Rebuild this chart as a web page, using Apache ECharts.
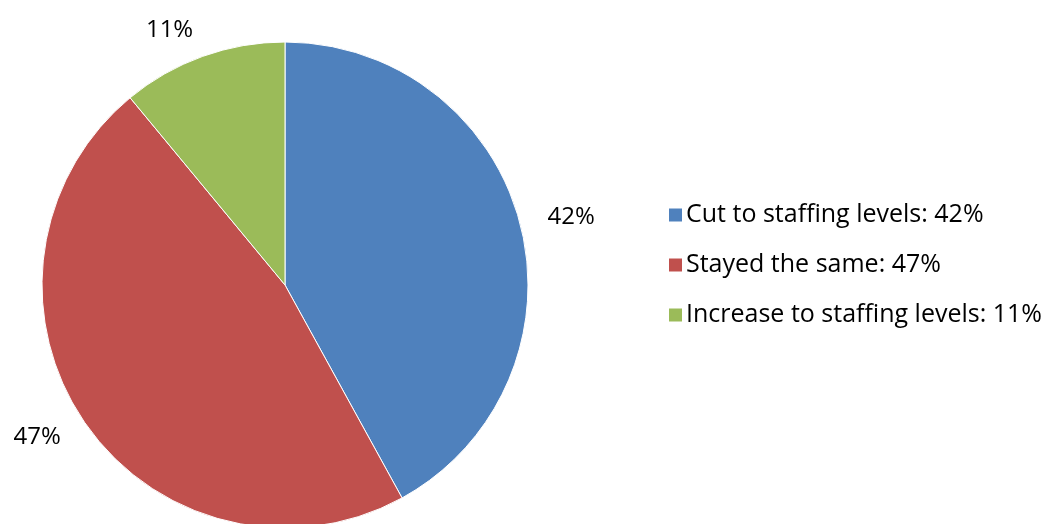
<!DOCTYPE html>
<html>
<head>
<meta charset="utf-8">
<script src="https://cdn.jsdelivr.net/npm/echarts@6/dist/echarts.min.js"></script>
<style>
  html, body { margin: 0; padding: 0; background: #ffffff; }
  #chart { width: 1061px; height: 524px; }
</style>
</head>
<body>
<div id="chart"></div>
<script>
// Change to staffing levels, share of respondents (%)
const categories = ['Cut to staffing levels', 'Stayed the same', 'Increase to staffing levels'];
const shares = [42, 47, 11];
const colors = ['#4F81BD', '#C0504D', '#9BBB59'];

const FONT = '"Open Sans", Lato, sans-serif';

const chart = echarts.init(document.getElementById('chart'));
chart.setOption({
  animation: false,
  backgroundColor: '#ffffff',
  color: colors,
  legend: {
    orient: 'vertical',
    left: 662,
    top: 196,
    itemWidth: 15,
    itemHeight: 15,
    itemGap: 22,
    icon: 'rect',
    data: categories,
    formatter: function (name) {
      return name + ': ' + shares[categories.indexOf(name)] + '%';
    },
    textStyle: { fontFamily: FONT, fontSize: 25, color: '#000000', lineHeight: 28, padding: [0, 0, 0, -2] }
  },
  series: [{
    type: 'pie',
    center: [285, 285],
    radius: 243,
    startAngle: 90,
    clockwise: true,
    avoidLabelOverlap: false,
    itemStyle: { borderColor: '#ffffff', borderWidth: 1 },
    label: {
      show: true,
      position: 'outside',
      formatter: '{c}%',
      fontFamily: FONT,
      fontSize: 24,
      color: '#000000',
      distanceToLabelLine: 0
    },
    labelLine: { show: false, length: 28, length2: 0 },
    emphasis: { disabled: true },
    data: categories.map(function (c, i) { return { name: c, value: shares[i] }; })
  }]
});
</script>
</body>
</html>
